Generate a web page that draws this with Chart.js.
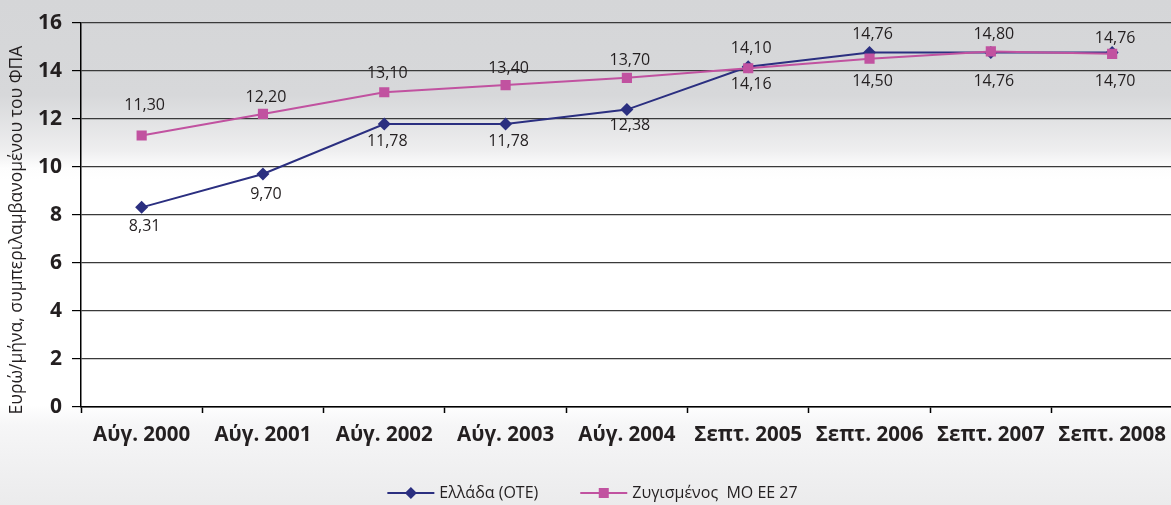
<!DOCTYPE html>
<html>
<head>
<meta charset="utf-8">
<script src="https://cdn.jsdelivr.net/npm/chart.js@4"></script>
<style>
  html, body { margin: 0; padding: 0; overflow: hidden; }
  body {
    width: 1171px; height: 505px;
    background: linear-gradient(to bottom, #d5d6d8 0px, #d7d8da 95px, #eeeeef 150px, #fdfdfd 168px, #ffffff 180px, #ffffff 405px, #f6f6f7 425px, #ebebec 505px);
  }
  .wrap { width: 1171px; height: 505px; overflow: hidden; position: relative; }
  canvas { position: absolute; left: 0; top: 0; }
</style>
</head>
<body>
<div class="wrap">
  <canvas id="myChart" width="1180" height="505"></canvas>
</div>
<script>
// κατηγορίες και τιμές (ευρώ/μήνα)
let categories = ['Αύγ. 2000', 'Αύγ. 2001', 'Αύγ. 2002', 'Αύγ. 2003', 'Αύγ. 2004', 'Σεπτ. 2005', 'Σεπτ. 2006', 'Σεπτ. 2007', 'Σεπτ. 2008'];
let greece = [8.31, 9.70, 11.78, 11.78, 12.38, 14.16, 14.76, 14.76, 14.76];
let euAverage = [11.30, 12.20, 13.10, 13.40, 13.70, 14.10, 14.50, 14.80, 14.70];
let yTicks = [0, 2, 4, 6, 8, 10, 12, 14, 16];

let greeceName = 'Ελλάδα (ΟΤΕ)';
let euName = 'Ζυγισμένος  ΜΟ ΕΕ 27';
let yTitle = 'Ευρώ/μήνα, συμπεριλαμβανομένου του ΦΠΑ';

// θέση ετικετών (πάνω/κάτω από το σημείο)
let greeceLabelDy = [19, 20, 17, 17, 16, 18, -18, 29, -14];
let euLabelDy = [-30, -16, -19, -17, -17, -20, 23, -17, 28];

const navy = '#2b2f80';
const pink = '#c152a0';
const FONT = "'Open Sans', sans-serif";

let fmt = v => v.toFixed(2).replace('.', ',');

const valueLabels = {
  id: 'valueLabels',
  afterDatasetsDraw(chart) {
    const ctx = chart.ctx;
    ctx.save();
    ctx.font = '16px ' + FONT;
    ctx.fillStyle = '#231f20';
    ctx.textAlign = 'center';
    ctx.textBaseline = 'middle';
    chart.data.datasets.forEach((ds, i) => {
      chart.getDatasetMeta(i).data.forEach((pt, j) => {
        ctx.fillText(fmt(ds.data[j]), pt.x + 3, pt.y + ds.labelDy[j]);
      });
    });
    ctx.restore();
  }
};

// τίτλος άξονα y, λίγο πιο χαμηλά από το κέντρο
const yAxisTitle = {
  id: 'yAxisTitle',
  afterDraw(chart) {
    const ctx = chart.ctx;
    ctx.save();
    ctx.translate(17, 230);
    ctx.rotate(-Math.PI / 2);
    ctx.font = '17.5px ' + FONT;
    ctx.fillStyle = '#231f20';
    ctx.textAlign = 'center';
    ctx.textBaseline = 'middle';
    ctx.fillText(yTitle, 0, 0);
    ctx.restore();
  }
};

const lineLegend = {
  id: 'lineLegend',
  afterDraw(chart) {
    const ctx = chart.ctx;
    ctx.save();
    ctx.font = '16px ' + FONT;
    ctx.textBaseline = 'middle';
    const y = 493;
    const lineLen = 47, gap = 5, itemGap = 42;
    const items = chart.data.datasets;
    let total = 0;
    items.forEach((ds, i) => {
      total += lineLen + gap + ctx.measureText(ds.label).width;
      if (i < items.length - 1) total += itemGap;
    });
    let x = (1171 + 14) / 2 - total / 2;
    items.forEach(ds => {
      ctx.strokeStyle = ds.borderColor;
      ctx.lineWidth = 2;
      ctx.beginPath();
      ctx.moveTo(x, y);
      ctx.lineTo(x + lineLen, y);
      ctx.stroke();
      ctx.fillStyle = ds.borderColor;
      const cx = x + lineLen / 2;
      if (ds.pointStyle === 'rectRot') {
        ctx.beginPath();
        ctx.moveTo(cx, y - 6); ctx.lineTo(cx + 6, y); ctx.lineTo(cx, y + 6); ctx.lineTo(cx - 6, y);
        ctx.closePath(); ctx.fill();
      } else {
        ctx.fillRect(cx - 5, y - 5, 10, 10);
      }
      ctx.fillStyle = '#231f20';
      ctx.fillText(ds.label, x + lineLen + gap, y);
      x += lineLen + gap + ctx.measureText(ds.label).width + itemGap;
    });
    ctx.restore();
  }
};

let ctx = document.getElementById('myChart').getContext('2d');

let myChart = new Chart(ctx, {
  type: 'line',
  data: {
    labels: categories,
    datasets: [{
      label: greeceName,
      data: greece,
      labelDy: greeceLabelDy,
      order: 1,
      borderColor: navy,
      backgroundColor: navy,
      borderWidth: 2,
      pointStyle: 'rectRot',
      pointRadius: 6.5,
      pointBorderWidth: 0,
      tension: 0
    }, {
      label: euName,
      data: euAverage,
      labelDy: euLabelDy,
      order: 0,
      borderColor: pink,
      backgroundColor: pink,
      borderWidth: 2,
      pointStyle: 'rect',
      pointRadius: 7.2,
      pointBorderWidth: 0,
      tension: 0
    }]
  },
  options: {
    responsive: false,
    animation: false,
    layout: { padding: { top: 21, right: 1, bottom: 50, left: 0 } },
    plugins: {
      legend: { display: false },
      tooltip: { enabled: false }
    },
    scales: {
      x: {
        offset: true,
        grid: {
          offset: true,
          drawOnChartArea: false,
          drawTicks: true,
          tickLength: 6,
          tickColor: '#000',
          tickWidth: 1.5
        },
        border: { color: '#000', width: 1.5 },
        ticks: {
          color: '#231f20',
          font: { family: FONT, size: 20.5, weight: 'bold' },
          padding: 10,
          maxRotation: 0,
          autoSkip: false
        },
        afterFit(scale) { scale.height = 48; }
      },
      y: {
        min: 0,
        max: 16,
        afterBuildTicks(scale) { scale.ticks = yTicks.map(v => ({ value: v })); },
        grid: {
          color: '#3a3a3a',
          lineWidth: 1.2,
          drawTicks: true,
          tickLength: 9,
          tickColor: '#000'
        },
        border: { color: '#000', width: 1.5 },
        ticks: {
          color: '#231f20',
          font: { family: FONT, size: 21, weight: 'bold' },
          padding: 10
        },
        afterFit(scale) { scale.width = 81; }
      }
    }
  },
  plugins: [valueLabels, yAxisTitle, lineLegend]
});
</script>
</body>
</html>
